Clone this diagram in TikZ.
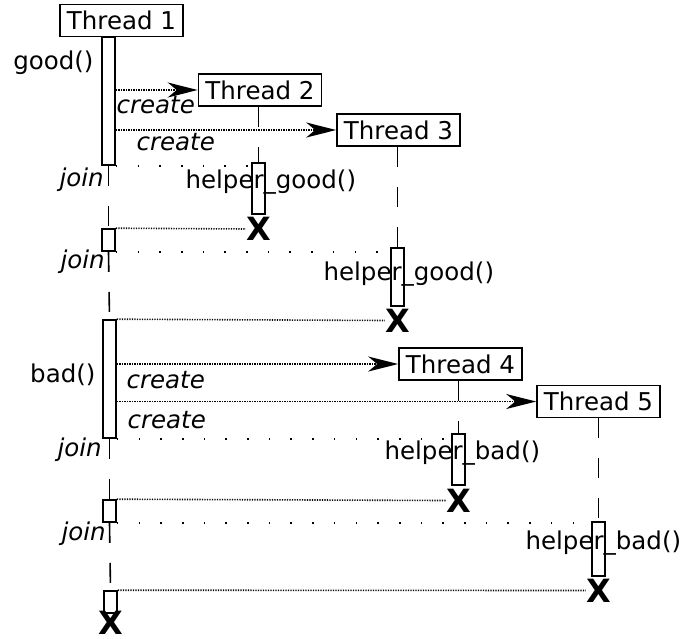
\documentclass[tikz,border=0pt]{standalone}
\usepackage{fontspec}
\setmainfont{DejaVu Sans}
\usetikzlibrary{arrows.meta}

\begin{document}
\begin{tikzpicture}[x=1pt, y=-1pt, font=\fontsize{24.5}{29}\selectfont,
    threadbox/.style={draw, line width=1.6pt, inner sep=0pt, minimum width=123pt, minimum height=32pt},
    actbar/.style={draw, fill=white, line width=1.6pt, inner sep=0pt, minimum width=13pt},
    lifeline/.style={line width=1.6pt, dash pattern=on 20pt off 20pt},
    createarrow/.style={line width=1.6pt, dash pattern=on 1.2pt off 1.3pt, -{Stealth[length=30pt, width=15pt, inset=9pt]}},
    backline/.style={line width=1.6pt, dash pattern=on 1.2pt off 1.3pt},
    joinline/.style={line width=1.6pt, dash pattern=on 1.6pt off 20.1pt},
    killx/.style={inner sep=0pt, font=\fontsize{32}{32}\selectfont\bfseries},
    callword/.style={anchor=base west, font=\fontsize{24.5}{29}\selectfont\itshape}]
        \useasboundingbox(0, 0) rectangle (695, 638);

        \node[threadbox](t1) at(121.5, 20.5){Thread 1};
        \node[threadbox](t2) at(260, 90){Thread 2};
        \node[threadbox](t3) at(398.5, 130){Thread 3};
        \node[threadbox](t4) at(460.5, 364){Thread 4};
        \node[threadbox](t5) at(598.5, 401.5){Thread 5};

        \node[actbar, minimum height=128pt](good) at(108.5, 101){};
        \node[actbar, minimum height=22pt](j1) at(108.5, 240){};
        \node[actbar, minimum height=118pt](bad) at(109.5, 379){};
        \node[actbar, minimum height=22pt](j3) at(109.5, 511){};
        \node[actbar, minimum height=22pt](j4) at(110.5, 602){};
        \node[actbar, minimum height=51pt](h2) at(258.5, 188.5){};
        \node[actbar, minimum height=58pt](h3) at(397.5, 277){};
        \node[actbar, minimum height=51pt](h4) at(458.5, 459.5){};
        \node[actbar, minimum height=54pt](h5) at(598.5, 549){};

        \draw[lifeline](good.south) to (j1.north);
        \draw[lifeline](j1.south) to (bad.north);
        \draw[lifeline](bad.south) to (j3.north);
        \draw[lifeline](j3.south) to (j4.north);
        \draw[lifeline](h2.north |- t2.south) to (h2.north);
        \draw[lifeline](h3.north |- t3.south) to (h3.north);
        \draw[lifeline](h4.north |- t4.south) to (h4.north);
        \draw[lifeline](h5.north |- t5.south) to (h5.north);

        \node[killx](x2) at(258.5, 229){X};
        \node[killx](x3) at(397.5, 320.5){X};
        \node[killx](x4) at(458.5, 500.5){X};
        \node[killx](x5) at(598.5, 590.5){X};
        \node[killx](x1) at(110.5, 623){X};

        \draw[createarrow](good.east |- t2.west) to (t2.west);
        \draw[createarrow](good.east |- t3.west) to (t3.west);
        \draw[createarrow](bad.east |- t4.west) to (t4.west);
        \draw[createarrow](bad.east |- t5.west) to (t5.west);

        \draw[backline](j1.north east) to (x2.west);
        \draw[backline](bad.north east) to (x3.west);
        \draw[backline](j3.north east) to (x4.west);
        \draw[backline](j4.north east) to (x5.west);

        \draw[joinline](good.south east) to (good.south east -| h2.west);
        \draw[joinline](j1.south east) to (j1.south east -| h3.west);
        \draw[joinline](bad.south east) to (bad.south east -| h4.west);
        \draw[joinline](j3.south east) to (j3.south east -| h5.west);

        \node[anchor=base east](lgood) at(97, 69){good()};
        \node[anchor=base east](lbad) at(99, 382){bad()};

        \node[callword](c1) at(113, 113){create};
        \node[callword](c2) at(133, 150){create};
        \node[callword](c3) at(123, 388){create};
        \node[callword](c4) at(124, 428){create};

        \node[callword](jn1) at(56, 186){join};
        \node[callword](jn2) at(57, 268){join};
        \node[callword](jn3) at(54, 456){join};
        \node[callword](jn4) at(58, 540){join};

        \node[anchor=base west](hg2) at(182, 188){helper\_good()};
        \node[anchor=base west](hg3) at(320, 280){helper\_good()};
        \node[anchor=base west](hb4) at(381, 459){helper\_bad()};
        \node[anchor=base west](hb5) at(522, 549){helper\_bad()};
    \end{tikzpicture}
\end{document}
